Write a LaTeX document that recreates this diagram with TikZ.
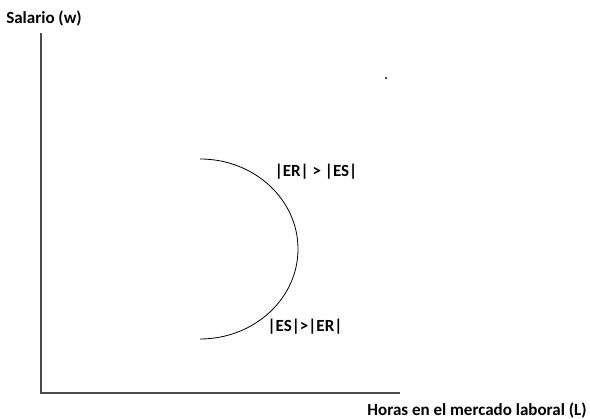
\documentclass[tikz,border=0pt]{standalone}
\usepackage{fontspec}
\setmainfont{Carlito}
\usetikzlibrary{positioning}

\tikzset{
  etiqueta/.style={font=\bfseries\fontsize{17}{20}\selectfont, inner sep=0pt},
  eje/.style={draw=black!70, line width=1.4pt},
}

\begin{document}
\begin{tikzpicture}[x=1pt,y=1pt]
    \useasboundingbox (0,0) rectangle (590,419);

    \coordinate (O) at (41,26);
    \coordinate (Ytop) at (41,386);
    \coordinate (Xend) at (400,26);

    \draw[eje] (Ytop) -- (O) -- (Xend);

    \node[etiqueta] (ejew) at (44,401) {Salario (w)};
    \node[etiqueta] (ejeL) at (477,9) {Horas en el mercado laboral (L)};

    % curva de oferta que se dobla hacia atras
    \coordinate (C1) at (200,260);
    \draw[black, line width=0.8pt] (C1) arc[start angle=90, end angle=-90, x radius=98, y radius=90];

    \node[etiqueta] (sup) at (316,247) {|ER| > |ES|};
    \node[etiqueta] (inf) at (305,92) {|ES|>|ER|};

    \fill[black!70] (385.2,340.2) rectangle (386.8,341.8);

  \end{tikzpicture}
\end{document}
